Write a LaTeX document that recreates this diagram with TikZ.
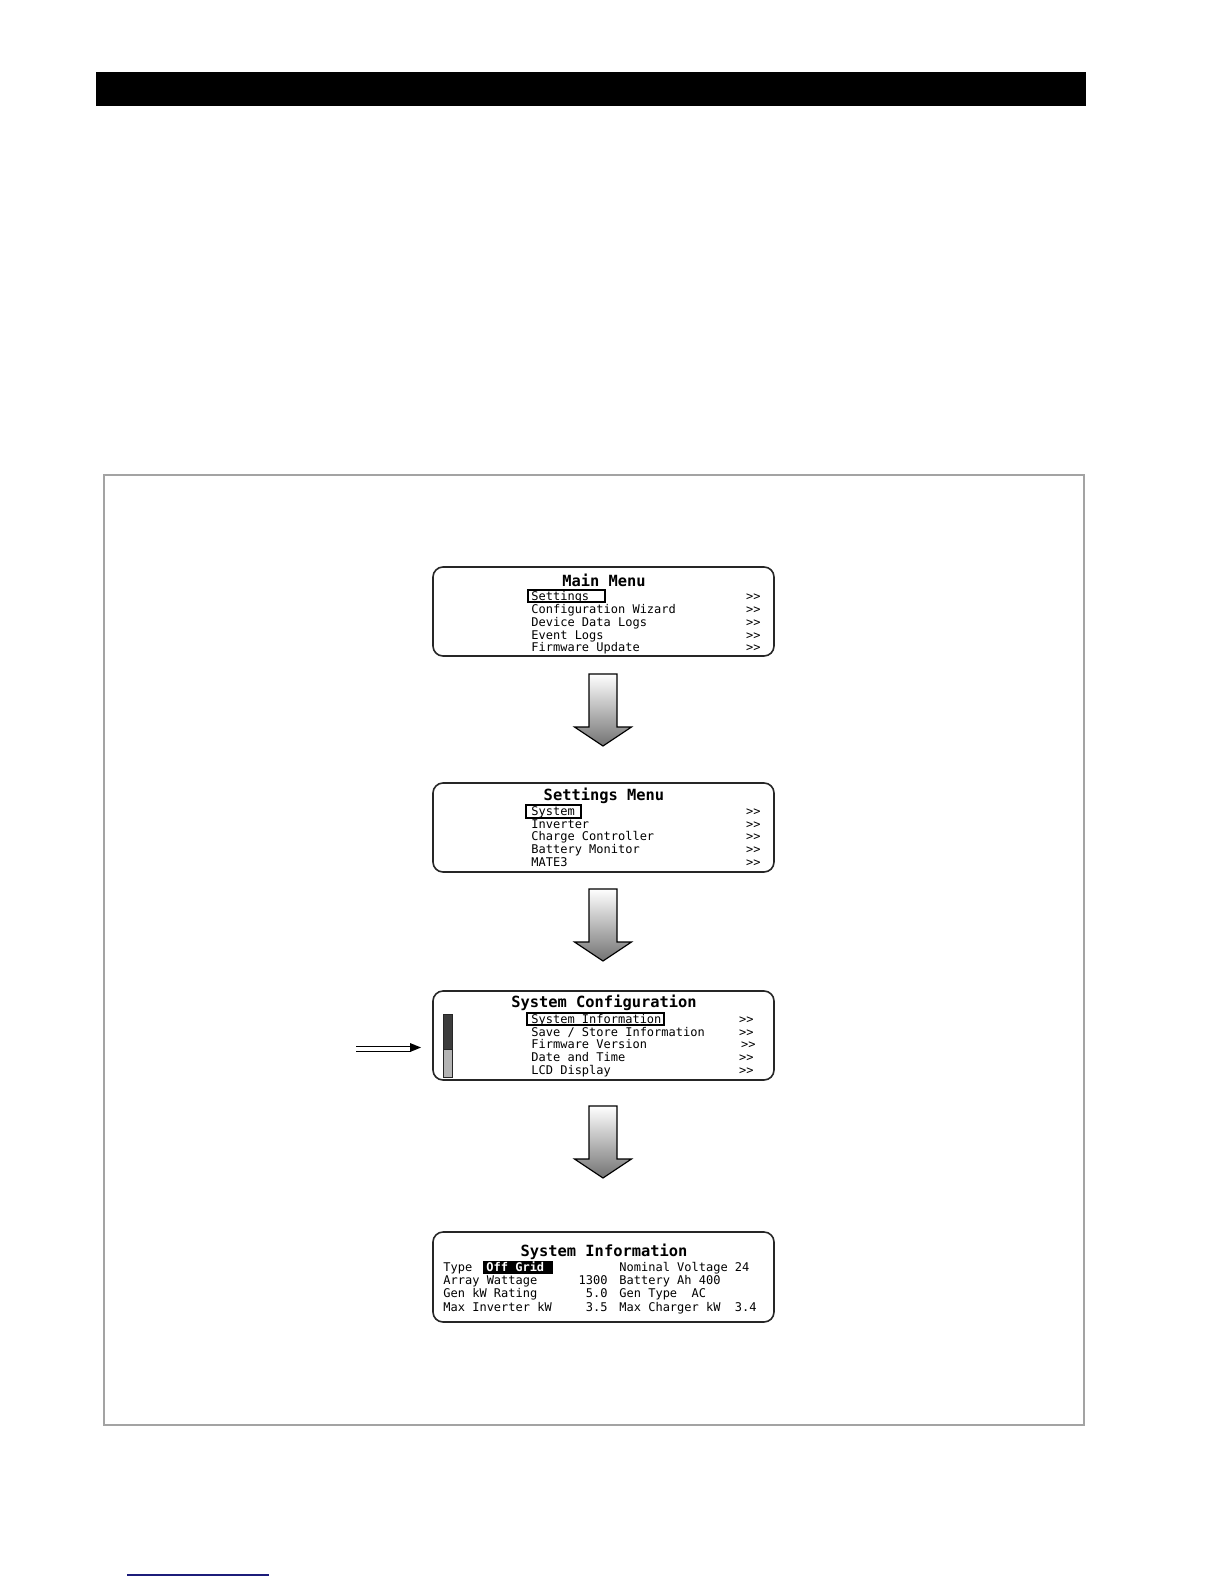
\documentclass[tikz,border=0pt]{standalone}
\usepackage{fontspec}
\setmonofont{DejaVu Sans Mono}
\usetikzlibrary{arrows.meta}
\definecolor{lcd_frame}{HTML}{262626}
\definecolor{page_frame}{HTML}{A3A3A3}
\definecolor{scroll_dark}{HTML}{3C3C3C}
\definecolor{scroll_light}{HTML}{B4B4B4}
\definecolor{link_blue}{HTML}{1C1C7A}

\begin{document}
\begin{tikzpicture}[
    x=0.5pt, y=-0.5pt,
    screen/.style={draw=lcd_frame, line width=0.8pt, rounded corners=5pt,
        minimum width=170.5pt, minimum height=44.5pt, inner sep=0pt},
    lcdtitle/.style={font=\ttfamily\bfseries\fontsize{7.7}{8}\selectfont, inner sep=0pt},
    lcditem/.style={font=\ttfamily\fontsize{6}{6}\selectfont, inner sep=0pt, anchor=mid west},
    lcdmore/.style={lcditem, anchor=mid east},
    hilite/.style={draw=black, line width=0.6pt},
    menuarrow/.pic={
        \draw[draw=black, line width=0.6pt, top color=white, bottom color=black!55]
            (-14,0) -- (14,0) -- (14,53) -- (28.5,53) -- (0,72)
            -- (-28.5,53) -- (-14,53) -- cycle;
    }
]
\useasboundingbox (0,0) rectangle (1224,1584);

% ----------------------------------------------------------
% Seitenrahmen: schwarzer Balken, grauer Rahmen, Fusslinie
% ----------------------------------------------------------
\fill[black] (96,72) rectangle (1086,106);
\draw[page_frame, line width=0.6pt] (104,475) rectangle (1084,1425);
\draw[link_blue, line width=0.8pt] (127,1575) -- (269,1575);

% ----------------------------------------------------------
% Bildschirm 1: Main Menu
% ----------------------------------------------------------
\node[screen] (mainmenu) at (603.5,611.5) {};
\node[lcdtitle] (mmtitle) at (604,580) {Main Menu};
\draw[hilite] (528,590) rectangle (605,602);
\foreach \txt [count=\i] in {Settings, Configuration Wizard, Device Data Logs,
    Event Logs, Firmware Update} {
    \node[lcditem] (mm\i) at (531,583.5+12.8*\i) {\txt};
    \node[lcdmore] (mmgo\i) at (761,583.5+12.8*\i) {>>};
}

\pic at (603,674) {menuarrow};

% ----------------------------------------------------------
% Bildschirm 2: Settings Menu
% ----------------------------------------------------------
\node[screen] (settingsmenu) at (603.5,827.5) {};
\node[lcdtitle] (smtitle) at (604,796) {Settings Menu};
\draw[hilite] (526,805) rectangle (581,818);
\foreach \txt [count=\i] in {System, Inverter, Charge Controller,
    Battery Monitor, MATE3} {
    \node[lcditem] (sm\i) at (531,798.2+12.8*\i) {\txt};
    \node[lcdmore] (smgo\i) at (761,798.2+12.8*\i) {>>};
}

\pic at (603,889) {menuarrow};

% ----------------------------------------------------------
% Bildschirm 3: System Configuration (mit Rollbalken)
% ----------------------------------------------------------
\node[screen] (sysconfig) at (603.5,1035.5) {};
\node[lcdtitle] (sctitle) at (604,1003) {System Configuration};
\draw[hilite] (527,1013) rectangle (664,1025);
\foreach \txt/\gx [count=\i] in {{System Information}/754, {Save / Store Information}/754,
    {Firmware Version}/756, {Date and Time}/754, {LCD Display}/754} {
    \node[lcditem] (sc\i) at (531,1006.2+12.8*\i) {\txt};
    \node[lcdmore] (scgo\i) at (\gx,1006.2+12.8*\i) {>>};
}
\draw[lcd_frame, line width=0.5pt, fill=scroll_light] (443,1014) rectangle (452,1077);
\draw[lcd_frame, line width=0.5pt, fill=scroll_dark] (443,1014) rectangle (452,1049);
\coordinate (scrollbar) at (421,1047.5);
\coordinate (pointer) at (356,1047.5);

% Zeigerpfeil auf den Rollbalken
\draw[black, line width=0.5pt] ([yshift=-2pt]pointer) -- ([xshift=-5pt, yshift=-2pt]scrollbar);
\draw[black, line width=0.5pt] ([yshift=0.7pt]pointer) -- ([xshift=-5pt, yshift=0.7pt]scrollbar);
\fill[black] (scrollbar) -- (410,1043) -- (410,1052) -- cycle;

\pic at (603,1106) {menuarrow};

% ----------------------------------------------------------
% Bildschirm 4: System Information
% ----------------------------------------------------------
\node[screen, minimum height=45pt] (sysinfo) at (603.5,1277) {};
\node[lcdtitle] (sititle) at (604,1252) {System Information};
\fill[black] (483,1261) rectangle (553,1274);
\node[lcditem, text=white, font=\ttfamily\bfseries\fontsize{6}{6}\selectfont]
    (sitype) at (486,1267) {Off Grid};
\foreach \lab/\val/\rlab [count=\i] in {Type//Nominal Voltage 24,
    Array Wattage/1300/Battery Ah 400, Gen kW Rating/5.0/Gen Type~~AC,
    Max Inverter kW/3.5/Max Charger kW~~3.4} {
    \node[lcditem] (sil\i) at (443,1253.7+13.3*\i) {\lab};
    \node[lcdmore] (siv\i) at (608,1253.7+13.3*\i) {\val};
    \node[lcditem] (sir\i) at (619,1253.7+13.3*\i) {\rlab};
}

\end{tikzpicture}
\end{document}
